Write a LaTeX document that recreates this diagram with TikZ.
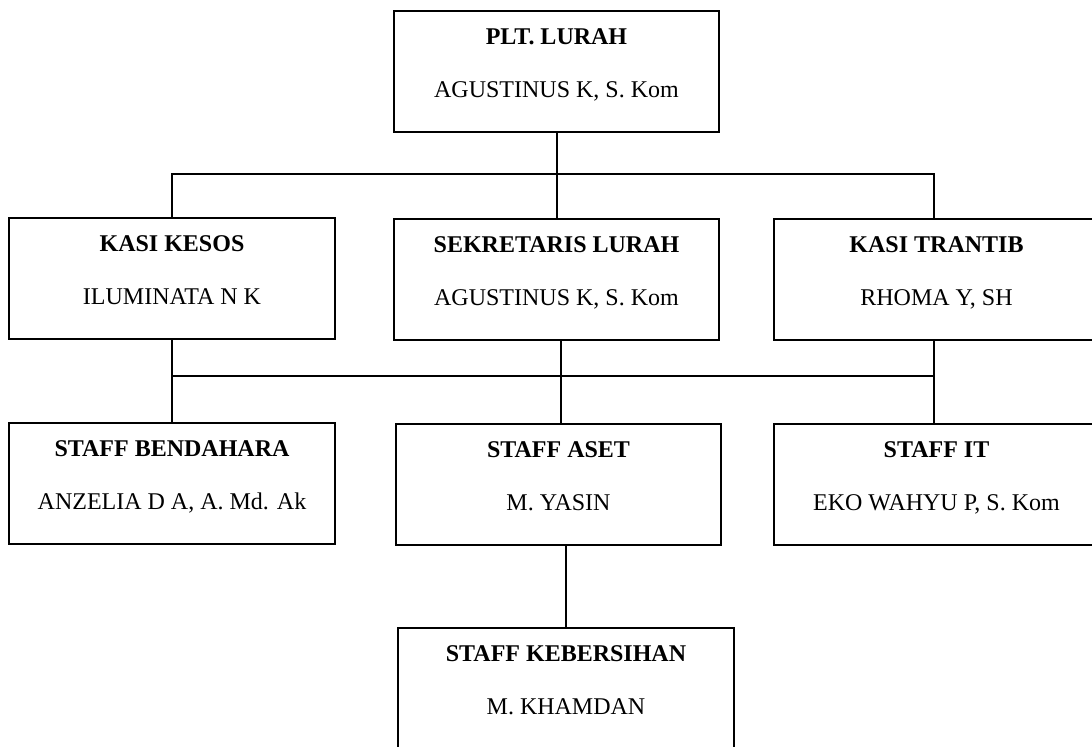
\documentclass[tikz,border=0pt]{standalone}
\usepackage{fontspec}
\setmainfont{Liberation Serif}
\newcommand{\orgbox}[6]{%
  \node[box,minimum width=#4] (#1) at (#2,#3) {};
  \node[ttl] at ([yshift=-17pt]#1.north) {#5};
  \node[nm] at ([yshift=-43.5pt]#1.north) {#6};
}
\begin{document}
\begin{tikzpicture}[x=0.5pt,y=-0.5pt,
  box/.style={draw=black,line width=1pt,rectangle,anchor=north west,inner sep=0pt,minimum height=60.5pt},
  ttl/.style={anchor=base,font=\fontsize{12}{14}\selectfont\bfseries,inner sep=0pt},
  nm/.style={anchor=base,font=\fontsize{12}{14}\selectfont,inner sep=0pt},
  conn/.style={draw=black,line width=1pt}]
\useasboundingbox (0,0) rectangle (1092,746);
\clip (0,0) rectangle (1092,746);
\fill[white] (0,0) rectangle (1092,746);

\orgbox{plt}{393}{10}{162.5pt}{PLT. LURAH}{AGUSTINUS K, S. Kom}
\orgbox{kesos}{8}{217}{163pt}{KASI KESOS}{ILUMINATA N K}
\orgbox{sek}{393}{218}{162.5pt}{SEKRETARIS LURAH}{AGUSTINUS K, S. Kom}
\orgbox{trantib}{773}{218}{162.5pt}{KASI TRANTIB}{RHOMA Y, SH}
\orgbox{bend}{8}{422}{163pt}{STAFF BENDAHARA}{ANZELIA D A, A. Md. Ak}
\orgbox{aset}{395}{423}{162.5pt}{STAFF ASET}{M. YASIN}
\orgbox{it}{773}{423}{162.5pt}{STAFF IT}{EKO WAHYU P, S. Kom}
\orgbox{kebr}{397}{627}{168pt}{STAFF KEBERSIHAN}{M. KHAMDAN}

\coordinate (busA) at (0,174);
\coordinate (busB) at (0,376);
\coordinate (asetX) at (561,0);

\draw[conn] (plt.south) -- (sek.north);
\draw[conn] (kesos.north) -- (kesos.north |- busA) -- ([xshift=-1.2pt]trantib.north |- busA) -- ([xshift=-1.2pt]trantib.north);

\draw[conn] (kesos.south) -- (bend.north);
\draw[conn] ([xshift=-1.2pt]trantib.south) -- ([xshift=-1.2pt]it.north);
\draw[conn] (kesos.south |- busB) -- ([xshift=-1.2pt]trantib.south |- busB);
\draw[conn] (asetX |- sek.south) -- (asetX |- aset.north);
\draw[conn] (kebr.north |- aset.south) -- (kebr.north);
\end{tikzpicture}
\end{document}
